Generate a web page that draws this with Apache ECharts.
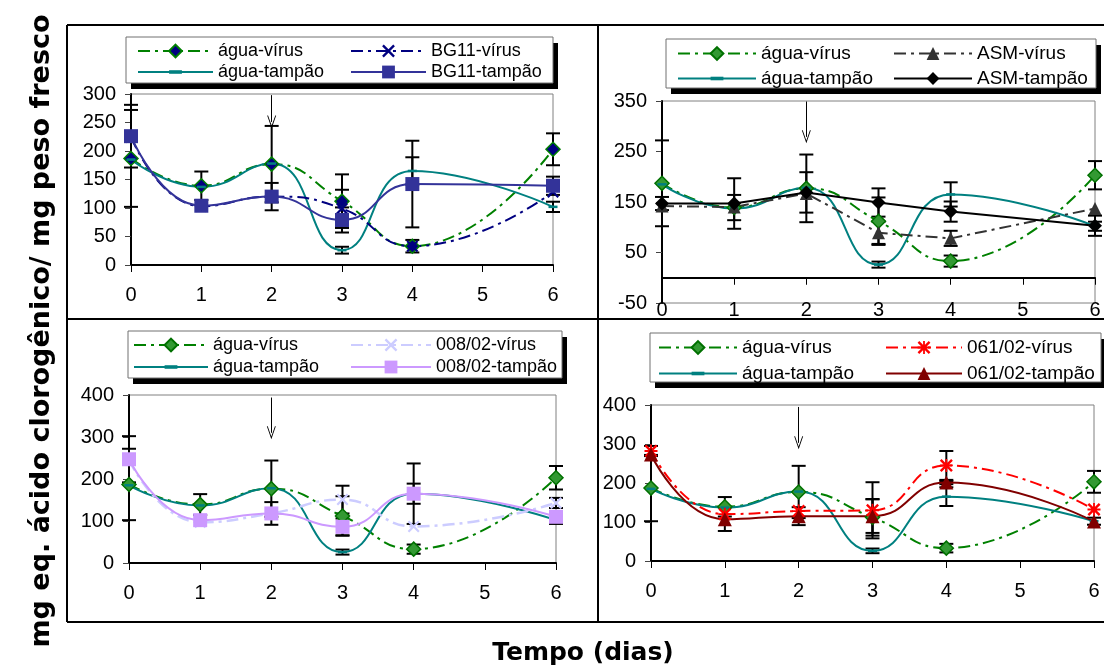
<!DOCTYPE html>
<html><head><meta charset="utf-8">
<script src="https://cdn.jsdelivr.net/npm/echarts@6/dist/echarts.min.js"></script>
<style>html,body{margin:0;padding:0;background:#fff}#c{width:1104px;height:668px}</style>
</head><body><div id="c"></div>
<script>
// ---------- DATA ----------
const days = [0, 1, 2, 3, 4, 6];
const xTickLabels = ['0', '1', '2', '3', '4', '5', '6'];
const panelNames = [
  ['BG11-vírus', 'BG11-tampão'],
  ['ASM-vírus', 'ASM-tampão'],
  ['008/02-vírus', '008/02-tampão'],
  ['061/02-vírus', '061/02-tampão']
];
const aguaNames = ['água-vírus', 'água-tampão'];
// shared water controls
const aguaVirus      = [187, 139, 177, 112, 33, 203];
const aguaVirusErr   = [85, 25, 67, 47, 11, 28];
const aguaTampao     = [185, 137, 178, 26, 165, 102];
const aguaTampaoErr  = [0, 0, 0, 6, 24, 9];
// panel 1
const bg11Virus      = [224, 103, 120, 99, 33, 128];
const bg11VirusErr   = [0, 0, 0, 33, 0, 0];
const bg11Tampao     = [226, 104, 120, 79, 142, 139];
const bg11TampaoErr  = [55, 0, 24, 22, 76, 16];
// panel 2
const asmVirus       = [142, 140, 167, 89, 78, 137];
const asmVirusErr    = [0, 0, 0, 22, 15, 0];
const asmTampao      = [147, 147, 169, 149, 131, 103];
const asmTampaoErr   = [13, 50, 40, 28, 20, 20];
// panel 3
const v008Virus      = [245, 97, 118, 151, 87, 143];
const v008VirusErr   = [0, 0, 0, 33, 0, 12];
const v008Tampao     = [247, 102, 118, 86, 165, 110];
const v008TampaoErr  = [55, 0, 27, 20, 72, 0];
// panel 4
const v061Virus      = [282, 120, 128, 130, 245, 132];
const v061VirusErr   = [13, 0, 0, 72, 37, 0];
const v061Tampao     = [273, 107, 115, 115, 201, 101];
const v061TampaoErr  = [0, 30, 23, 43, 4, 0];
const yRanges = [[0, 300, 50], [-50, 350, 100], [0, 400, 100], [0, 400, 100]];
const arrowSpans = [[298, 251], [349, 279], [394, 310], [395, 303]];
const xTitle = 'Tempo (dias)';
const yTitle = 'mg eq. ácido clorogênico/ mg peso fresco';

// ---------- LAYOUT / STYLE ----------
const FONT = '"Liberation Sans", Arial, sans-serif';
const DASH = [12, 5, 3, 5];
const X_PATH = 'path://M0,1.3L1.3,0L5,3.7L8.7,0L10,1.3L6.3,5L10,8.7L8.7,10L5,6.3L1.3,10L0,8.7L3.7,5Z';
const AST_PATH = X_PATH + 'M4.3,0L5.7,0L5.7,10L4.3,10ZM0,4.3L10,4.3L10,5.7L0,5.7Z';
const DASH_MARK = 'path://M0,0L0,0M0,10L0,10M0,3.6L10,3.6L10,6.4L0,6.4Z';
const ARROW_PATH = 'path://M0,10L5,0L10,10L9,10L5,2.2L1,10Z';

const grids = [
  {left: 131, top: 94, width: 422, height: 171},
  {left: 662, top: 101, width: 433, height: 202},
  {left: 129, top: 395, width: 427, height: 168},
  {left: 651, top: 405, width: 443, height: 156}
];
const xLabelMargin = [20, -3, 20, 20];
const legendBoxes = [
  {x: 126, y: 37, w: 427, h: 46},
  {x: 666, y: 39, w: 430, h: 49},
  {x: 128, y: 331, w: 434, h: 47},
  {x: 650, y: 333, w: 451, h: 49}
];
const legendCols = [
  {l: [137, 75], r: [350, 75], top: 42, gap: 3, fs: 18},
  {l: [677, 78], r: [893, 78], top: 44, gap: 6, fs: 19},
  {l: [133, 74], r: [350, 80], top: 336, gap: 4, fs: 18},
  {l: [658, 78], r: [885, 76], top: 338, gap: 7, fs: 19}
];
const seriesStyles = [
  {vir: {color: '#000080', symbol: X_PATH, size: 12, dash: true, smooth: true},
   tam: {color: '#333399', symbol: 'rect', size: 14, smooth: true},
   aguaFill: '#000080', aguaBorder: '#008000'},
  {vir: {color: '#333333', symbol: 'triangle', size: 13, dash: true, smooth: false},
   tam: {color: '#000000', symbol: 'diamond', size: 14, smooth: false},
   aguaFill: '#339933', aguaBorder: '#007000'},
  {vir: {color: '#CCCCFF', symbol: X_PATH, size: 12, dash: true, smooth: true, width: 2.5},
   tam: {color: '#CC99FF', symbol: 'rect', size: 14, smooth: true},
   aguaFill: '#339933', aguaBorder: '#007000'},
  {vir: {color: '#FF0000', symbol: AST_PATH, size: 13, dash: true, smooth: true},
   tam: {color: '#800000', symbol: 'triangle', size: 14, smooth: true},
   aguaFill: '#339933', aguaBorder: '#007000'}
];
const panelData = [
  [bg11Virus, bg11VirusErr, bg11Tampao, bg11TampaoErr],
  [asmVirus, asmVirusErr, asmTampao, asmTampaoErr],
  [v008Virus, v008VirusErr, v008Tampao, v008TampaoErr],
  [v061Virus, v061VirusErr, v061Tampao, v061TampaoErr]
];

function lineSeries(p, name, vals, o, extra) {
  const s = {
    type: 'line', name: name + '#' + p, xAxisIndex: p, yAxisIndex: p,
    data: days.map((d, i) => [d, vals[i]]),
    smooth: o.smooth ? 0.5 : false,
    symbol: o.symbol, symbolSize: o.size, showSymbol: true, showAllSymbol: true,
    lineStyle: {color: o.color, width: o.width || 2, type: o.dash ? DASH : 'solid'},
    itemStyle: {color: o.fill || o.color, borderColor: o.border || o.color, borderWidth: o.bw || 0},
    emphasis: {disabled: true},
    z: 3, animation: false, clip: false, silent: true
  };
  return Object.assign(s, extra || {});
}
function errSeries(p, vals, errs) {
  return {
    type: 'custom', xAxisIndex: p, yAxisIndex: p, z: 2, silent: true, animation: false,
    data: days.map((d, i) => [d, vals[i], errs[i]]),
    encode: {x: 0, y: 1},
    renderItem: function (params, api) {
      const x = api.value(0), y = api.value(1), e = api.value(2);
      if (!e) return null;
      const t = api.coord([x, y + e]), b = api.coord([x, y - e]);
      const w = 7, st = {stroke: '#000', lineWidth: 2};
      return {type: 'group', children: [
        {type: 'line', shape: {x1: t[0], y1: t[1], x2: b[0], y2: b[1]}, style: st},
        {type: 'line', shape: {x1: t[0] - w, y1: t[1], x2: t[0] + w, y2: t[1]}, style: st},
        {type: 'line', shape: {x1: b[0] - w, y1: b[1], x2: b[0] + w, y2: b[1]}, style: st}
      ]};
    }
  };
}

const option = {
  animation: false,
  backgroundColor: '#fff',
  grid: grids.map(g => Object.assign({show: true, backgroundColor: '#fff', borderColor: '#808080', borderWidth: 1, containLabel: false, outerBoundsMode: 'none'}, g)),
  xAxis: grids.map((g, p) => ({
    type: 'value', gridIndex: p, min: 0, max: 6, interval: 1,
    axisLine: {show: true, onZero: true, lineStyle: {color: '#000', width: 2}},
    axisTick: {show: true, length: 7, lineStyle: {color: '#000', width: 1}},
    axisLabel: {show: true, margin: xLabelMargin[p], color: '#000', fontSize: 20, fontFamily: FONT,
      formatter: v => xTickLabels[Math.round(v)] || ''},
    splitLine: {show: false}
  })),
  yAxis: grids.map((g, p) => ({
    type: 'value', gridIndex: p, min: yRanges[p][0], max: yRanges[p][1], interval: yRanges[p][2],
    axisLine: {show: true, onZero: false, lineStyle: {color: '#000', width: 2}},
    axisTick: {show: true, length: 6, lineStyle: {color: '#444', width: 1}},
    axisLabel: {show: true, margin: 15, color: '#000', fontSize: 20, fontFamily: FONT},
    splitLine: {show: false}
  })),
  legend: [],
  series: [],
  graphic: []
};

for (let p = 0; p < 4; p++) {
  const st = seriesStyles[p];
  const [vir, virErr, tam, tamErr] = panelData[p];
  option.series.push(errSeries(p, aguaVirus, aguaVirusErr));
  option.series.push(errSeries(p, aguaTampao, aguaTampaoErr));
  option.series.push(errSeries(p, vir, virErr));
  option.series.push(errSeries(p, tam, tamErr));
  option.series.push(lineSeries(p, aguaNames[0], aguaVirus,
    {color: '#008000', symbol: 'diamond', size: 14, dash: true, smooth: true,
     fill: st.aguaFill, border: st.aguaBorder, bw: 1.5},
    {markLine: {silent: true, animation: false, symbol: ['none', ARROW_PATH], symbolSize: [9, 13],
      lineStyle: {color: '#000', width: 1, type: 'solid'}, label: {show: false},
      emphasis: {disabled: true},
      data: [[{coord: [2, arrowSpans[p][0]]}, {coord: [2, arrowSpans[p][1]]}]]}}));
  option.series.push(lineSeries(p, aguaNames[1], aguaTampao,
    {color: '#008080', symbol: DASH_MARK, size: 9, smooth: true}));
  option.series.push(lineSeries(p, panelNames[p][0], vir, st.vir));
  option.series.push(lineSeries(p, panelNames[p][1], tam, st.tam));

  const lc = legendCols[p];
  const mkLegend = (col, names) => ({
    orient: 'vertical', left: col[0], top: lc.top, padding: 0,
    itemWidth: col[1], itemHeight: 16, itemGap: lc.gap, selectedMode: false,
    data: names.map(n => n + '#' + p),
    formatter: n => n.split('#')[0],
    textStyle: {color: '#000', fontSize: lc.fs, fontFamily: FONT, lineHeight: 16}
  });
  option.legend.push(mkLegend(lc.l, aguaNames));
  option.legend.push(mkLegend(lc.r, panelNames[p]));

  const b = legendBoxes[p];
  option.graphic.push({type: 'rect', silent: true, z: 1, shape: {x: b.x + 5, y: b.y + 6, width: b.w, height: b.h}, style: {fill: '#000'}});
  option.graphic.push({type: 'rect', silent: true, z: 2, shape: {x: b.x, y: b.y, width: b.w, height: b.h}, style: {fill: '#fff', stroke: '#707070', lineWidth: 1}});
}

[[67, 25, 1104, 25], [67, 25, 67, 622], [598, 25, 598, 622], [67, 319, 1104, 319], [67, 622, 1104, 622]].forEach(l => {
  option.graphic.push({type: 'line', silent: true, z: 5, shape: {x1: l[0], y1: l[1], x2: l[2], y2: l[3]}, style: {stroke: '#000', lineWidth: 2}});
});
option.graphic.push({type: 'text', silent: true, x: 583, y: 653,
  style: {text: xTitle, fontFamily: '"DejaVu Sans", sans-serif', fontWeight: 'bold', fontSize: 25, fill: '#000', align: 'center', verticalAlign: 'middle'}});
option.graphic.push({type: 'text', silent: true, x: 42, y: 331, rotation: Math.PI / 2,
  style: {text: yTitle, fontFamily: '"DejaVu Sans", sans-serif', fontWeight: 'bold', fontSize: 27, fill: '#000', align: 'center', verticalAlign: 'middle'}});

const chart = echarts.init(document.getElementById('c'), null, {renderer: 'canvas', width: 1104, height: 668});
chart.setOption(option);
</script>
</body></html>
